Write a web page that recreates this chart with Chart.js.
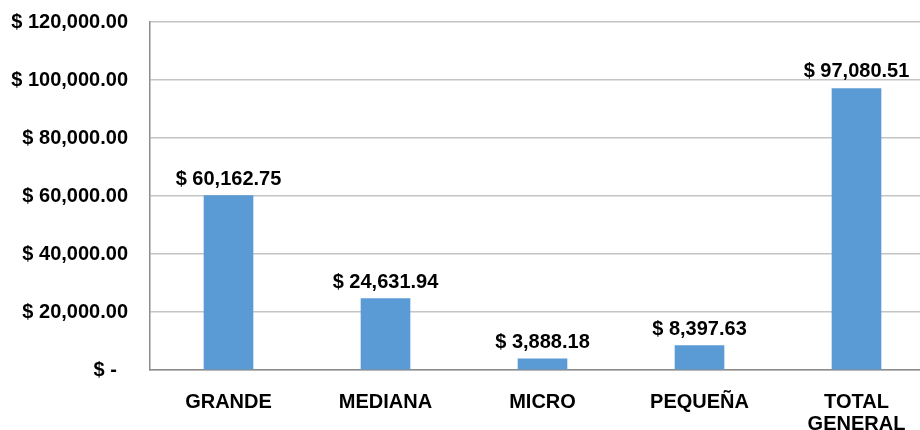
<!DOCTYPE html>
<html>
<head>
<meta charset="utf-8">
<script src="https://cdn.jsdelivr.net/npm/chart.js@4.4.1/dist/chart.umd.min.js"></script>
<style>
  html, body { margin: 0; padding: 0; background: #fff; overflow: hidden; }
  #wrap { width: 940px; height: 430px; }
</style>
</head>
<body>
<div id="wrap"><canvas id="chart"></canvas></div>
<script>
var categories = ["GRANDE", "MEDIANA", "MICRO", "PEQUEÑA", ["TOTAL", "GENERAL"]];
var amounts = [60162.75, 24631.94, 3888.18, 8397.63, 97080.51];
var yTicks = [0, 20000, 40000, 60000, 80000, 100000, 120000];

var labelFont = { family: "'Liberation Sans', Arial, sans-serif", size: 20, weight: "bold" };

function money(v) {
  if (v === 0) return "$ -  ";
  return "$ " + v.toLocaleString("en-US", { minimumFractionDigits: 2, maximumFractionDigits: 2 });
}

var valueLabels = {
  id: "valueLabels",
  afterDatasetsDraw: function(chart) {
    var ctx = chart.ctx;
    var meta = chart.getDatasetMeta(0);
    ctx.save();
    ctx.font = "bold 20px 'Liberation Sans', Arial, sans-serif";
    ctx.fillStyle = "#000";
    ctx.textAlign = "center";
    ctx.textBaseline = "alphabetic";
    meta.data.forEach(function(bar, i) {
      ctx.fillText(money(amounts[i]), bar.x, bar.y - 11);
    });
    ctx.restore();
  }
};

document.addEventListener("DOMContentLoaded", function() {
  var ctx = document.getElementById("chart").getContext("2d");
  new Chart(ctx, {
    type: "bar",
    data: {
      labels: categories,
      datasets: [{
        data: amounts,
        backgroundColor: "#5B9BD5",
        borderWidth: 0,
        barThickness: 49
      }]
    },
    options: {
      responsive: true,
      maintainAspectRatio: false,
      animation: false,
      layout: { padding: { top: 22, right: 5, left: 0, bottom: 0 } },
      plugins: {
        legend: { display: false },
        tooltip: { enabled: false }
      },
      scales: {
        x: {
          grid: { display: false },
          border: { display: true, color: "#8c8c8c", width: 1.5 },
          ticks: {
            color: "#000",
            font: Object.assign({ lineHeight: 1.1 }, labelFont),
            padding: 13,
            maxRotation: 0,
            autoSkip: false
          },
          afterFit: function(scale) { scale.height = 60; }
        },
        y: {
          min: 0,
          max: 120000,
          afterBuildTicks: function(scale) {
            scale.ticks = yTicks.map(function(v) { return { value: v }; });
          },
          grid: { color: "#c4c4c4", lineWidth: 1.5, drawTicks: false },
          border: { display: true, color: "#8c8c8c", width: 1.5 },
          ticks: {
            color: "#000",
            font: labelFont,
            padding: 22,
            callback: function(v) { return money(v); }
          },
          afterFit: function(scale) {
            scale.width = 150;
            scale.paddingTop = 0;
            scale.paddingBottom = 0;
          }
        }
      }
    },
    plugins: [valueLabels]
  });
});
</script>
</body>
</html>
